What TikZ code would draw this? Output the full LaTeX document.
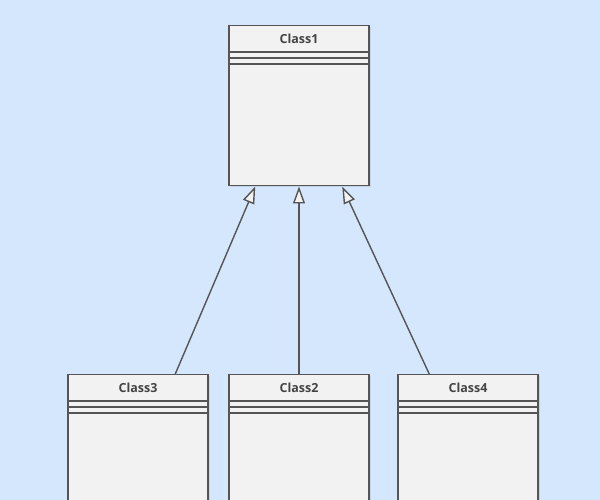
\documentclass[tikz,border=0pt]{standalone}
\usepackage{fontspec}
\setmainfont{Open Sans}
\usetikzlibrary{arrows.meta,calc,shadows}
\definecolor{bgblue}{HTML}{D4E7FD}
\definecolor{boxfill}{HTML}{F2F2F2}
\definecolor{boxline}{HTML}{555555}
\definecolor{txt}{HTML}{444444}

\begin{document}
\begin{tikzpicture}[x=1pt,y=1pt,
    classbox/.style={draw=boxline, line width=1.5pt, fill=boxfill,
        minimum width=140pt, minimum height=160pt, inner sep=0pt, anchor=north,
        drop shadow={shadow xshift=1.5pt, shadow yshift=-1.5pt, opacity=0.2}},
    classname/.style={text=txt, font=\fontsize{12.5}{13}\selectfont\bfseries},
    inherit/.style={draw=boxline, line width=1.4pt,
        -{Triangle[open, length=17pt, width=12pt, fill=boxfill]}}
]

% Background
\fill[bgblue] (0,0) rectangle (600,500);
\useasboundingbox (0,0) rectangle (600,500);
\clip (0,0) rectangle (600,500);

% Classes
\node[classbox] (c1) at (299,475) {};
\node[classbox] (c3) at (138,126) {};
\node[classbox] (c2) at (299,126) {};
\node[classbox] (c4) at (468,126) {};

% Compartments and names
\foreach \c/\t in {c1/Class1, c2/Class2, c3/Class3, c4/Class4} {
    \foreach \d in {27,33,39}
        \draw[boxline, line width=1.5pt] ($(\c.north west)+(0,-\d)$) -- ($(\c.north east)+(0,-\d)$);
    \node[classname] (\c name) at ($(\c.north)+(0,-13.5)$) {\t};
}

% Generalisations
\draw[inherit] ($(c3.north west)+(108,0)$) -- ($(c1.south west)+(27,0)$);
\draw[inherit] (c2.north) -- (c1.south);
\draw[inherit] ($(c4.north west)+(32,0)$) -- ($(c1.south west)+(114,0)$);

\end{tikzpicture}
\end{document}
